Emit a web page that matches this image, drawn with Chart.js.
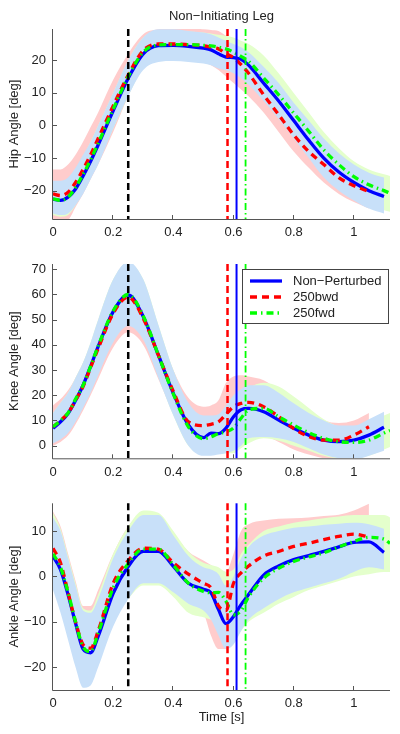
<!DOCTYPE html>
<html>
<head>
<meta charset="utf-8">
<script src="https://cdn.jsdelivr.net/npm/chart.js@4.4.1/dist/chart.umd.min.js"></script>
<style>
  html, body { margin: 0; padding: 0; background: #fff; }
  #wrap { position: relative; width: 400px; height: 734px; }
  canvas { position: absolute; left: 0; }
</style>
</head>
<body>
<div id="wrap">
  <canvas id="hip" width="400" height="245" style="top:0px"></canvas>
  <canvas id="knee" width="400" height="235" style="top:245px"></canvas>
  <canvas id="ankle" width="400" height="254" style="top:480px"></canvas>
</div>
<script>
// time base [s]
const T = [0, 0.025, 0.05, 0.075, 0.1, 0.125, 0.15, 0.2, 0.25, 0.3, 0.35, 0.4, 0.45, 0.5, 0.525,
  0.55, 0.575, 0.6, 0.625, 0.65, 0.7, 0.75, 0.8, 0.85, 0.9, 0.95, 1, 1.05, 1.1, 1.12];

const xTicks = [0, 0.2, 0.4, 0.6, 0.8, 1];
const eventTimes = [0.25, 0.58, 0.61, 0.64];
const seriesNames = ['Non\u2212Perturbed', '250bwd', '250fwd'];

// hip
const hipBlue  = [-22.6, -23, -22, -19.5, -15.5, -11, -6, 4.5, 14.5, 22, 24.5, 24.6, 24.3, 23.7, 23.2, 22, 21, 20.8, 20.3, 18.5, 13, 7.5, 1.5, -4.5, -10, -14.3, -17.5, -20, -21.8, null];
const hipRed   = [-21, -21.5, -20.5, -17.5, -13.5, -9, -4, 6, 15.5, 23, 25, 25, 24.8, 24.5, 24, 23.5, 22, 20.8, 18.7, 16, 9.4, 3.3, -2.9, -8, -12, -16, -18.5, -20.3, null, null];
const hipGreen = [-22.5, -23, -22, -19, -15, -10.5, -5.5, 5, 15, 22.5, 24.7, 24.8, 24.8, 24.6, 24.4, 24, 23.5, 22.5, 21.2, 19.7, 14.6, 9.4, 3.8, -1.8, -7.5, -12, -15.7, -18.2, -20, -20.8];
const hipBlueHi  = [-17, -17, -16, -13, -9, -5, 0, 10, 20, 27, 29.5, 29.5, 29, 28.5, 28, 27, 26, 25, 24, 22.5, 18, 13, 7, 1.5, -4, -8.5, -12, -14.5, -16, null];
const hipBlueLo  = [-27, -27.5, -27, -24.5, -21, -16.5, -12, -1, 9, 17, 19.5, 19.8, 19.5, 19, 18.5, 17.5, 17, 16, 14.5, 12.5, 7.5, 2, -4, -10, -16, -20, -23, -25.5, -27, null];
const hipRedHi   = [-13.5, -13.5, -12, -9, -5, -0.5, 4, 14, 22, 28, 29.5, 30, 30, 29.5, 29.3, 29, 27.5, 26, 24, 22, 17, 11, 5, -1, -6, -11, -14, -16, null, null];
const hipRedLo   = [-29, -29.5, -29, -25, -21, -16.5, -12, -2, 9, 18, 20, 20, 20, 19.5, 18.5, 17, 15, 13, 11, 9, 4, -2, -8, -13, -17.5, -21, -23.5, -25.5, null, null];
const hipGreenHi = [-17.5, -17.5, -16.5, -13.5, -9.5, -5, 0, 10, 20, 27, 29, 29, 28.8, 28.5, 28.2, 27.8, 27.5, 27, 26, 25, 21.5, 16, 10, 4, -2, -7, -11, -13.5, -15, -15.5];
const hipGreenLo = [-27.5, -28, -27.5, -24.5, -20.5, -16, -11.5, -1, 9, 17.5, 20, 20, 20, 19.8, 19.5, 19, 18.5, 18, 16.5, 14.5, 9, 3, -3, -9, -14, -18.5, -22, -24.5, -26, -26.5];

// knee
const kneeBlue  = [6.9, 9.5, 12.8, 18, 24, 31.5, 39.3, 53.2, 59.8, 51.2, 36, 20.8, 8.2, 3.2, 5, 4.8, 7, 11.5, 14.3, 14.8, 13.5, 10.2, 6.9, 4.2, 2.2, 1.6, 2.2, 4.2, 7.3, null];
const kneeRed   = [7.5, 10, 13, 18, 23.5, 31, 38.5, 52.5, 59, 50.5, 36, 21.5, 9.5, 8, 8.5, 9.5, 12.5, 15.5, 16.8, 17.2, 15.5, 11.5, 6.8, 3.6, 2.2, 2.2, 4.2, 7.5, null, null];
const kneeGreen = [7.5, 10, 13, 18.5, 24, 31.5, 39.5, 53.5, 60, 51.5, 36, 20.5, 7.5, 2.8, 3.5, 4.8, 5.5, 7, 10.9, 14.2, 14.8, 11.5, 8.2, 5.2, 2.9, 1.6, 1.3, 2.2, 5, 6];
const kneeBlueHi  = [13, 17, 21, 27, 33, 41, 50, 66, 73, 66, 48, 30, 17, 12, 12, 12.5, 16, 20, 22.5, 24, 24, 21, 16.8, 13, 10, 8, 8, 10.5, 13.5, null];
const kneeBlueLo  = [1, 2.5, 5, 9.5, 15, 21, 28, 41, 47.5, 42, 27, 12, 0, -4, -4, -3.5, -3, -2, 0, 3, 3.5, 3, 1.5, -1, -3.5, -5, -5.5, -4, -2, null];
const kneeRedHi   = [16, 18.5, 22, 27, 33, 40, 48, 63, 70, 64, 47, 30, 19, 15.5, 16, 18, 25, 27.5, 28, 27.5, 26, 22, 17, 13, 10, 9, 10, 13, null, null];
const kneeRedLo   = [0, 1.5, 4, 8.5, 14, 20, 26.5, 39, 45, 40, 26.5, 13, 3, 1.5, 1.5, 2, 3, 4, 4.5, 5, 4, 1.5, -1.5, -3.5, -5, -5.5, -4, 0, null, null];
const kneeGreenHi = [13, 17, 21, 27, 33, 41, 50, 66, 72.5, 66, 48, 30, 16, 11, 11, 11.5, 14, 19, 21, 23, 25, 23.5, 19.5, 15, 10.5, 7.5, 6.5, 9, 12, 13];
const kneeGreenLo = [1.5, 3, 5.5, 10, 15.5, 21.5, 28.5, 41.5, 48, 42.5, 27.5, 12, 0, -3.5, -3.5, -3, -3, -3, -1, 1, 3, 2, 0, -2, -4, -5, -5, -4, -1.5, -0.5];

// ankle
const ankleBlue  = [4.4, 1.5, -4, -10.3, -16, -16.8, -13.2, -3.7, 2.2, 5.5, 5.5, 2.2, -1.5, -2.8, -3.6, -7.3, -10.4, -8.8, -6.2, -4, 0.3, 2.3, 3.7, 4.6, 5.5, 6.5, 7.5, 7.6, 5.3, null];
const ankleRed   = [6.2, 3, -3.5, -10, -15, -15.8, -12, -1.5, 3.5, 6.2, 6, 3, 0.5, -1.5, -2.5, -6.5, -7.5, -1.5, 0.8, 2.3, 4.5, 5.5, 6.6, 7.3, 8.1, 8.8, 9.3, 8.7, null, null];
const ankleGreen = [5, 2, -3.5, -10, -15.5, -16.5, -12.5, -2.5, 2.8, 6, 6, 2.5, -1.5, -3.3, -3.6, -3.5, -5.5, -8.5, -7.5, -4.5, -0.4, 1.8, 3.3, 4.3, 5.2, 6.5, 7.7, 8.6, 8.2, 7.3];
const ankleBlueHi  = [13, 10, 4, -2, -7.5, -8, -5, 4, 10, 13.5, 13.5, 9, 4.5, 2, 1.5, 0.5, -2, 0, 4, 6.5, 9, 10, 10.7, 11, 11.4, 11.6, 11.8, 11.5, 10.5, null];
const ankleBlueLo  = [-3, -8, -14, -20, -24.5, -24, -20, -11, -5, -1.5, -1.5, -3.5, -6, -7.5, -9.5, -13, -16, -15, -12, -9.5, -7, -5, -3.5, -2.5, -1.5, -0.5, 1, 2, 1.5, null];
const ankleRedHi   = [14.3, 11, 5, -1, -6.5, -6.5, -3, 5, 11, 13.5, 13, 9.5, 5.5, 3.5, 2.5, 1.5, 1, 5, 10, 11.5, 12.3, 12.7, 12.8, 13, 13.3, 13.6, 14.5, 16, null, null];
const ankleRedLo   = [-1, -6, -12, -18, -22, -21, -17, -8, -4, -1.5, -1.5, -3.5, -5.5, -8, -13, -16, -16, -9, -5, -3, -1, 0, 0.5, 1.5, 2.5, 3.5, 3, 0.5, null, null];
const ankleGreenHi = [14, 10.5, 4.5, -1.5, -7, -7.5, -4, 5, 11, 14.5, 14, 10, 5.5, 3, 2.5, 2, 1, 1.5, 5, 7, 10, 11, 11.8, 12.3, 12.8, 13.2, 13.5, 13.5, 13.5, 13];
const ankleGreenLo = [-2, -7, -13, -19, -23.5, -23, -19, -10, -5, -2, -2, -4.5, -8, -9, -9.5, -10, -12.5, -14, -12, -10, -8, -6, -4.5, -3, -2, -1, 0, 0.5, 1, 1];

const FONT = '"Liberation Sans", Arial, sans-serif';
const TXT = '#222';
const AXIS = '#555';
const BLUE = '#0000ff', RED = '#ff0000', GREEN = '#00ff00';
const meanStyle = [
  { color: BLUE, dash: [] },
  { color: RED, dash: [7, 5] },
  { color: GREEN, dash: [7, 4, 1.5, 4] }
];
const eventStyle = [
  { color: '#000', width: 2.5, dash: [7, 4] },
  { color: RED, width: 2.5, dash: [7, 4] },
  { color: BLUE, width: 2, dash: [] },
  { color: GREEN, width: 1.8, dash: [7, 3, 1.5, 3] }
];

function minusFmt(v) {
  return v < 0 ? '\u2212' + Math.abs(v) : String(v);
}

function pts(arr) {
  const out = [];
  arr.forEach((v, i) => { if (v !== null) out.push({ x: T[i], y: v }); });
  return out;
}

function meanSet(arr, k, order) {
  return {
    data: pts(arr), borderColor: meanStyle[k].color, borderDash: meanStyle[k].dash,
    borderWidth: 3.3, borderCapStyle: 'butt', pointRadius: 0, fill: false, order: order,
    tension: 0.4, cubicInterpolationMode: 'monotone'
  };
}

function bandSets(hi, lo, color, order) {
  const base = { borderColor: 'transparent', borderWidth: 0, pointRadius: 0, order: order,
    tension: 0.4, cubicInterpolationMode: 'monotone' };
  return [
    Object.assign({ data: pts(hi), fill: '+1', backgroundColor: color }, base),
    Object.assign({ data: pts(lo), fill: false }, base)
  ];
}

const decorations = {
  id: 'decorations',
  afterDatasetsDraw(chart) {
    const { ctx, chartArea: a, scales: { x } } = chart;
    ctx.save();
    eventTimes.forEach((t, i) => {
      const px = x.getPixelForValue(t);
      const s = eventStyle[i];
      ctx.strokeStyle = s.color;
      ctx.lineWidth = s.width;
      ctx.setLineDash(s.dash);
      ctx.beginPath();
      ctx.moveTo(px, a.top);
      ctx.lineTo(px, a.bottom);
      ctx.stroke();
    });
    ctx.restore();
  },
  afterDraw(chart, args, opts) {
    const { ctx, chartArea: a, scales: { x, y } } = chart;
    ctx.save();
    ctx.setLineDash([]);
    ctx.strokeStyle = AXIS;
    ctx.lineWidth = 1;
    ctx.beginPath();
    ctx.moveTo(a.left - 0.5, a.top);
    ctx.lineTo(a.left - 0.5, a.bottom + 0.5);
    ctx.lineTo(a.right, a.bottom + 0.5);
    // inward ticks
    x.ticks.forEach(tk => {
      const px = Math.round(x.getPixelForValue(tk.value)) - 0.5;
      ctx.moveTo(px, a.bottom);
      ctx.lineTo(px, a.bottom - 4);
    });
    y.ticks.forEach(tk => {
      const py = Math.round(y.getPixelForValue(tk.value)) + 0.5;
      ctx.moveTo(a.left, py);
      ctx.lineTo(a.left + 4, py);
    });
    ctx.stroke();

    ctx.fillStyle = TXT;
    ctx.font = '13px ' + FONT;
    if (opts.title) {
      ctx.textAlign = 'center';
      ctx.textBaseline = 'middle';
      ctx.fillText(opts.title, (a.left + a.right) / 2, a.top - 13);
    }
    if (opts.legend) {
      const w = 146, h = 54;
      const lx = a.right - w - 2, ly = a.top + 5;
      ctx.fillStyle = '#fff';
      ctx.fillRect(lx, ly, w, h);
      ctx.strokeStyle = '#444';
      ctx.lineWidth = 1;
      ctx.strokeRect(lx + 0.5, ly + 0.5, w, h);
      seriesNames.forEach((name, i) => {
        const ry = ly + 12 + i * 16;
        ctx.strokeStyle = meanStyle[i].color;
        ctx.lineWidth = 3.3;
        ctx.setLineDash(meanStyle[i].dash);
        ctx.beginPath();
        ctx.moveTo(lx + 8, ry);
        ctx.lineTo(lx + 40, ry);
        ctx.stroke();
        ctx.setLineDash([]);
        ctx.fillStyle = TXT;
        ctx.textAlign = 'left';
        ctx.textBaseline = 'middle';
        ctx.fillText(name, lx + 51, ry);
      });
    }
    ctx.restore();
  }
};

function makeChart(id, s) {
  const datasets = [
    meanSet(s.green, 2, 1),
    meanSet(s.red, 1, 2),
    meanSet(s.blue, 0, 3),
    ...bandSets(s.blueHi, s.blueLo, 'rgb(200,224,249)', 4),
    ...bandSets(s.greenHi, s.greenLo, 'rgb(228,255,204)', 5),
    ...bandSets(s.redHi, s.redLo, 'rgb(255,204,204)', 6)
  ];
  return new Chart(document.getElementById(id), {
    type: 'line',
    data: { datasets },
    options: {
      responsive: false,
      animation: false,
      events: [],
      layout: { padding: { top: s.top, right: 10, left: 0, bottom: 0 } },
      scales: {
        x: {
          type: 'linear', min: 0, max: 1.12,
          afterBuildTicks: sc => { sc.ticks = xTicks.map(v => ({ value: v })); },
          afterFit: sc => { sc.height = s.xh; },
          grid: { display: false, drawTicks: false },
          border: { display: false },
          ticks: { padding: 6, color: TXT, font: { family: FONT, size: 13 }, callback: v => minusFmt(v), maxRotation: 0 },
          title: { display: !!s.xTitle, text: s.xTitle || '', color: TXT, font: { family: FONT, size: 13 }, padding: { top: 0, bottom: 9 } }
        },
        y: {
          type: 'linear', min: s.yMin, max: s.yMax,
          afterBuildTicks: sc => { sc.ticks = s.yTicks.map(v => ({ value: v })); },
          afterFit: sc => { sc.width = 53; },
          grid: { display: false, drawTicks: false },
          border: { display: false },
          ticks: { padding: 7, color: TXT, font: { family: FONT, size: 13 }, callback: v => minusFmt(v) },
          title: { display: true, text: s.yTitle, color: TXT, font: { family: FONT, size: 13 }, padding: { top: 7, bottom: 0 } }
        }
      },
      plugins: {
        legend: { display: false },
        tooltip: { enabled: false },
        decorations: { title: s.title, legend: s.legend }
      }
    },
    plugins: [decorations]
  });
}

makeChart('hip', {
  blue: hipBlue, red: hipRed, green: hipGreen,
  blueHi: hipBlueHi, blueLo: hipBlueLo, redHi: hipRedHi, redLo: hipRedLo, greenHi: hipGreenHi, greenLo: hipGreenLo,
  yMin: -28.7, yMax: 29.6, yTicks: [-20, -10, 0, 10, 20], yTitle: 'Hip Angle [deg]',
  top: 29, xh: 26, title: 'Non\u2212Initiating Leg'
});
makeChart('knee', {
  blue: kneeBlue, red: kneeRed, green: kneeGreen,
  blueHi: kneeBlueHi, blueLo: kneeBlueLo, redHi: kneeRedHi, redLo: kneeRedLo, greenHi: kneeGreenHi, greenLo: kneeGreenLo,
  yMin: -5, yMax: 72.1, yTicks: [0, 10, 20, 30, 40, 50, 60, 70], yTitle: 'Knee Angle [deg]',
  top: 19, xh: 21.7, legend: true
});
makeChart('ankle', {
  blue: ankleBlue, red: ankleRed, green: ankleGreen,
  blueHi: ankleBlueHi, blueLo: ankleBlueLo, redHi: ankleRedHi, redLo: ankleRedLo, greenHi: ankleGreenHi, greenLo: ankleGreenLo,
  yMin: -25, yMax: 16.1, yTicks: [-20, -10, 0, 10], yTitle: 'Ankle Angle [deg]',
  top: 23.3, xh: 44, xTitle: 'Time [s]'
});
</script>
</body>
</html>
